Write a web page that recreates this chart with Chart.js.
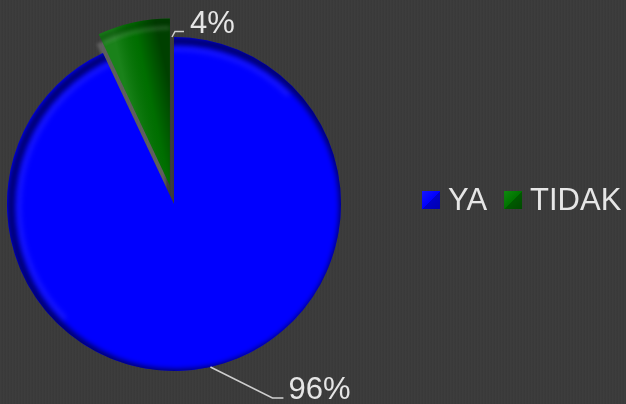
<!DOCTYPE html>
<html><head><meta charset="utf-8">
<script src="https://cdn.jsdelivr.net/npm/chart.js@4"></script>
<style>
html,body{margin:0;padding:0;}
body{width:626px;height:404px;overflow:hidden;background:#3a3a3a;
background-image:repeating-linear-gradient(90deg,rgba(255,255,255,0.015) 0px,rgba(255,255,255,0.015) 1px,rgba(0,0,0,0.02) 2px,rgba(0,0,0,0) 3px);}
canvas{display:block}
</style></head><body>
<canvas id="c" width="626" height="404"></canvas>
<script>
const categories = ['YA', 'TIDAK'];
const values = [93, 7];
const valueLabels = ['96%', '4%'];
const sliceColors = ['#0000ff', '#007400'];

const explode = [0, 19];
const rimColors = ['rgba(0,0,70,0.75)', 'rgba(0,40,0,0.35)'];
const textColor = '#e6e6e6';
const lineColor = '#cfcfcf';
const FONT = '31px "Liberation Sans", Arial, sans-serif';

function arcPath(ctx, x, y, r, s, e) {
  ctx.beginPath(); ctx.moveTo(x, y); ctx.arc(x, y, r, s, e); ctx.closePath();
}

const explodePlugin = {
  id: 'explode',
  afterDatasetsUpdate(chart) {
    const meta = chart.getDatasetMeta(0);
    meta.data.forEach((arc, i) => {
      const d = explode[i]; if (!d) return;
      const mid = (arc.startAngle + arc.endAngle) / 2;
      arc.x += Math.cos(mid) * d; arc.y += Math.sin(mid) * d;
    });
  },
  beforeDatasetsDraw(chart) {
    const ctx = chart.ctx; const meta = chart.getDatasetMeta(0);
    meta.data.forEach((arc, i) => {
      if (!explode[i]) return;
      ctx.save();
      ctx.filter = 'blur(1.5px)';
      ctx.fillStyle = 'rgba(130,130,130,0.5)';
      arcPath(ctx, arc.x - 4, arc.y + 6, arc.outerRadius - 4, arc.startAngle, arc.endAngle);
      ctx.fill();
      ctx.restore();
    });
  }
};

const bevelPlugin = {
  id: 'bevel',
  afterDatasetsDraw(chart) {
    const ctx = chart.ctx; const meta = chart.getDatasetMeta(0);
    meta.data.forEach((arc, i) => {
      const p = arc.getProps(['x','y','startAngle','endAngle','outerRadius'], true);
      const x = p.x, y = p.y, s = p.startAngle, e = p.endAngle, r = p.outerRadius;
      ctx.save();
      arcPath(ctx, x, y, r, s, e); ctx.clip();
      if (i === 1) {
        const ax = x + Math.cos(s) * r * 0.6, ay = y + Math.sin(s) * r * 0.6;
        const bx = x + Math.cos(e) * r * 0.6, by = y + Math.sin(e) * r * 0.6;
        const g = ctx.createLinearGradient(ax, ay, bx, by);
        g.addColorStop(0, 'rgba(255,255,255,0.10)');
        g.addColorStop(0.5, 'rgba(0,0,0,0.05)');
        g.addColorStop(1, 'rgba(0,0,0,0.45)');
        ctx.fillStyle = g; ctx.fillRect(x - r, y - r, 2 * r, 2 * r);
        ctx.filter = 'blur(2px)';
        ctx.strokeStyle = 'rgba(255,255,255,0.22)'; ctx.lineWidth = 3;
        ctx.beginPath(); ctx.arc(x, y, r - 9, s, e); ctx.stroke();
        ctx.filter = 'none';
      }
      ctx.filter = 'blur(2.5px)';
      ctx.strokeStyle = rimColors[i]; ctx.lineWidth = 8;
      ctx.beginPath(); ctx.arc(x + 3, y + 3, r - 1, 0, Math.PI * 2); ctx.stroke();
      if (i === 0) {
        ctx.strokeStyle = 'rgba(255,255,255,0.10)'; ctx.lineWidth = 4;
        ctx.beginPath(); ctx.arc(x + 3, y + 3, r - 9, Math.PI * 0.75, Math.PI * 1.75); ctx.stroke();
      }
      ctx.filter = 'none';
      ctx.restore();
    });
  }
};

const labelPlugin = {
  id: 'labels',
  afterDraw(chart) {
    const ctx = chart.ctx; const meta = chart.getDatasetMeta(0);
    const ca = chart.chartArea;
    const cx = (ca.left + ca.right) / 2, cy = (ca.top + ca.bottom) / 2;
    const blue = meta.data[0], green = meta.data[1];
    const r = blue.outerRadius;
    ctx.save();
    ctx.strokeStyle = lineColor; ctx.lineWidth = 1.5;
    ctx.fillStyle = textColor; ctx.font = FONT; ctx.textBaseline = 'alphabetic';
    const m0 = (blue.startAngle + blue.endAngle) / 2;
    const a0x = cx + Math.cos(m0) * r, a0y = cy + Math.sin(m0) * r;
    ctx.beginPath(); ctx.moveTo(a0x, a0y); ctx.lineTo(a0x + 62, a0y + 31); ctx.lineTo(a0x + 73, a0y + 31); ctx.stroke();
    ctx.fillText(valueLabels[0], a0x + 78, a0y + 32);
    const e1 = green.endAngle;
    const a1x = cx + Math.cos(e1) * r, a1y = cy + Math.sin(e1) * r;
    ctx.beginPath(); ctx.moveTo(a1x - 2, a1y); ctx.lineTo(a1x + 1, a1y - 5.5); ctx.lineTo(a1x + 10, a1y - 5.5); ctx.stroke();
    ctx.fillText(valueLabels[1], a1x + 16, a1y - 4);
    let lx = 422; const ly = 191, sz = 18;
    categories.forEach((c, i) => {
      const g = ctx.createLinearGradient(lx, ly, lx + sz, ly + sz);
      g.addColorStop(0, i === 0 ? '#1515ff' : '#0f8a0f');
      g.addColorStop(0.5, sliceColors[i]);
      g.addColorStop(0.51, i === 0 ? '#0000c8' : '#005a00');
      g.addColorStop(1, i === 0 ? '#0000b0' : '#004a00');
      ctx.fillStyle = g; ctx.fillRect(lx, ly, sz, sz);
      ctx.fillStyle = textColor;
      ctx.fillText(c, lx + 26, ly + 19);
      lx += 26 + ctx.measureText(c).width + 17;
    });
    ctx.restore();
  }
};

new Chart(document.getElementById('c'), {
  type: 'pie',
  data: {
    labels: categories,
    datasets: [{ data: values, backgroundColor: sliceColors, borderWidth: 0, radius: 167, clip: false }]
  },
  options: {
    responsive: false,
    animation: false,
    layout: { padding: { left: 0, right: 278, top: 4, bottom: 0 } },
    plugins: { legend: { display: false }, tooltip: { enabled: false } }
  },
  plugins: [explodePlugin, bevelPlugin, labelPlugin]
});
</script>
</body></html>
